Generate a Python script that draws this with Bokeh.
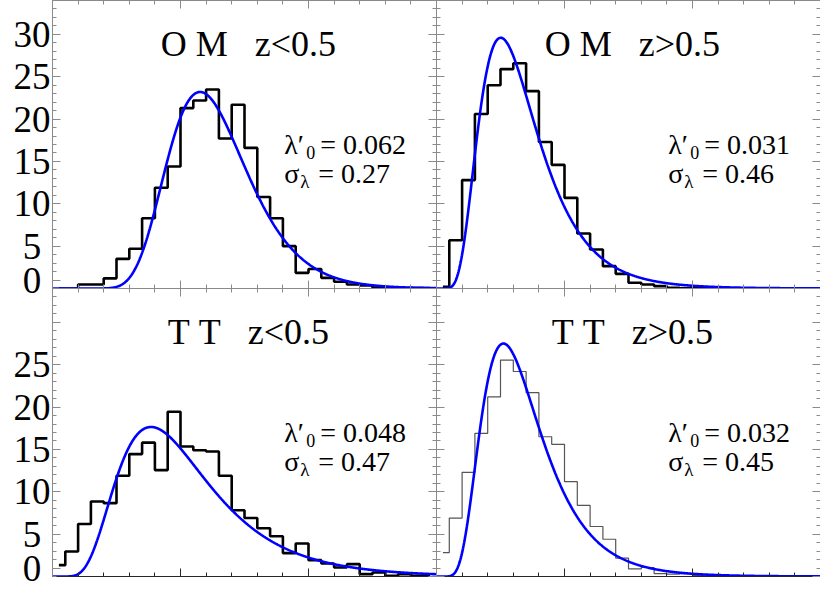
import numpy as np
from bokeh.plotting import figure
from bokeh.models import LinearAxis, Range1d, Label, FixedTicker, Grid
from bokeh.layouts import column, row
from bokeh.embed import file_html
from bokeh.resources import INLINE

# ---- data -------------------------------------------------------------
# histogram bins in lambda, width 0.005, centres:
bin_centers = [round(0.0025 + 0.005 * i, 4) for i in range(30)]

om_low = [0, 0, 0.47, 0.47, 1.2, 3.5, 4.7, 8.3, 11.9, 14.4,
          21.3, 22.2, 23.5, 17.7, 21.7, 16.6, 10.8, 8.3, 5.0, 1.85,
          2.3, 1.26, 0.8, 0.47, 0.35, 0.1, 0.1, 0.05, 0.05, 0.05]
om_high = [0.2, 5.7, 12.8, 20.6, 24.0, 25.9, 26.6, 23.3, 17.3, 14.6,
           10.7, 6.5, 4.6, 2.64, 1.73, 0.67, 0.47, 0.28, 0.08, 0.03,
           0.02, 0.02, 0.02, 0, 0, 0, 0, 0, 0, 0]
tt_low = [1.34, 2.95, 6.2, 8.86, 8.66, 11.9, 14.45, 15.8, 12.56, 19.45,
          15.35, 14.9, 14.76, 11.9, 7.83, 6.9, 5.7, 4.75, 2.76, 3.9,
          1.93, 1.54, 1.06, 1.46, 0.28, 0.47, 0.08, 0.28, 0.08, 0.08]
tt_high = [2.83, 6.9, 12.3, 16.9, 21.2, 25.55, 24.2, 21.7, 16.5, 15.6,
           11.2, 8.4, 5.9, 4.4, 2.17, 0.9, 1.06, 0.35, 0.28, 0.35,
           0.1, 0.05, 0.05, 0.03, 0.03, 0.02, 0.02, 0.02, 0.02, 0.02]

titles = ["O M   z<0.5", "O M   z>0.5", "T T   z<0.5", "T T   z>0.5"]
lam0 = [0.062, 0.031, 0.048, 0.032]
sigma = [0.27, 0.46, 0.47, 0.45]
lam0_txt = ["0.062", "0.031", "0.048", "0.032"]
sigma_txt = ["0.27", "0.46", "0.47", "0.45"]
fit_peak = [23.2, 29.6, 17.65, 27.5]   # peak height of the fitted curve

x_major = [0, 0.05, 0.10, 0.15]
x_minor = [round(0.01 * i, 2) for i in range(16)]
y_major = [0, 5, 10, 15, 20, 25, 30]
y_label_pos = [1, 5, 10, 15, 20, 25, 30]   # "0" label sits just above the axis
y_labels = ["0\u00a0", "5\u00a0", "10", "15", "20", "25", "30"]
y_minor = list(range(0, 35))

FONT = "Liberation Serif"
AXC = "#8a8a8a"
OVERLAP = 14


def style_axis(ax, labels, color=AXC):
    ax.axis_line_color = color
    ax.axis_line_width = 1
    ax.major_tick_line_color = color
    ax.minor_tick_line_color = color
    ax.major_tick_in = 8
    ax.major_tick_out = 0
    ax.minor_tick_in = 4
    ax.minor_tick_out = 0
    if labels:
        ax.major_label_standoff = 2
        ax.major_label_text_font = FONT
        ax.major_label_text_font_size = "37px"
        ax.major_label_text_color = "black"
    else:
        ax.major_label_standoff = 0
        ax.major_label_text_font_size = "0px"
        ax.major_label_text_color = None


def make_panel(i, counts, left, top, thin):
    p = figure(frame_width=384, frame_height=288,
               x_range=Range1d(0, 0.15), y_range=Range1d(0, 34),
               x_axis_location=None, y_axis_location=None,
               output_backend="svg", toolbar_location=None, tools="",
               min_border_left=52 if left else 0, min_border_right=0,
               min_border_top=0, min_border_bottom=OVERLAP if top else 17,
               outline_line_color=None,
               background_fill_color=None if not top else "white",
               border_fill_color=None if not top else "white")
    for r in list(p.center):
        if isinstance(r, Grid):
            r.visible = False

    xt = FixedTicker(ticks=x_major, minor_ticks=x_minor)
    for loc in ["below", "above"]:
        ax = LinearAxis(ticker=xt)
        style_axis(ax, False, "#262626" if (loc == "below" and not top) else AXC)
        p.add_layout(ax, loc)
    for loc in ["left", "right"]:
        lab = (loc == "left" and left)
        if lab:
            ax = LinearAxis(ticker=FixedTicker(ticks=y_label_pos, minor_ticks=y_minor))
            ov = dict(zip(y_label_pos, y_labels))
            if not top:
                ov[30] = ""
            ax.major_label_overrides = ov
        else:
            ax = LinearAxis(ticker=FixedTicker(ticks=y_major, minor_ticks=y_minor))
        style_axis(ax, lab)
        p.add_layout(ax, loc)

    # histogram
    if thin:
        p.step(bin_centers, counts, mode="center", line_color="#555555", line_width=1.2)
    else:
        p.step(bin_centers, counts, mode="center", line_color="black", line_width=2.6)

    # log-normal fit
    xs = np.linspace(0.0003, 0.15, 700)
    shape = np.exp(-np.log(xs / lam0[i]) ** 2 / (2 * sigma[i] ** 2)) / xs
    ys = fit_peak[i] * shape / shape.max()
    xs = np.concatenate([[0.0], xs])
    ys = np.concatenate([[0.0], ys])
    p.line(xs, ys, line_color="#0000ff", line_width=2.6)

    # title
    p.add_layout(Label(x=0.0765, y=28.9, text=titles[i].replace(" ", "\u00a0"),
                       text_align="center",
                       text_baseline="alphabetic", text_font=FONT,
                       text_font_size="36px", text_color="black"))
    # annotations
    ax0 = 0.0905
    y1, y2, dsub = 17.0, 13.62, 0.95

    def lab(x_off, y, t, size):
        p.add_layout(Label(x=ax0, y=y, x_offset=x_off, text=t, text_align="left",
                           text_baseline="alphabetic", text_font=FONT,
                           text_font_size=size, text_color="black"))
    lab(0, y1, "\u03bb\u2032", "28px")
    lab(22, y1 - dsub, "0", "18px")
    lab(36, y1, "= " + lam0_txt[i], "28px")
    lab(0, y2, "\u03c3", "28px")
    lab(16, y2 - dsub, "\u03bb", "19px")
    lab(34, y2, "= " + sigma_txt[i], "28px")
    return p


p1 = make_panel(0, om_low, True, True, False)
p2 = make_panel(1, om_high, False, True, False)
p3 = make_panel(2, tt_low, True, False, False)
p4 = make_panel(3, tt_high, False, False, True)

top_row = row(p1, p2, spacing=0)
bottom_row = row(p3, p4, spacing=0, styles={"margin-top": "-%dpx" % OVERLAP})
layout = column(top_row, bottom_row, spacing=0)

open("out.html", "w").write(file_html(layout, INLINE))
